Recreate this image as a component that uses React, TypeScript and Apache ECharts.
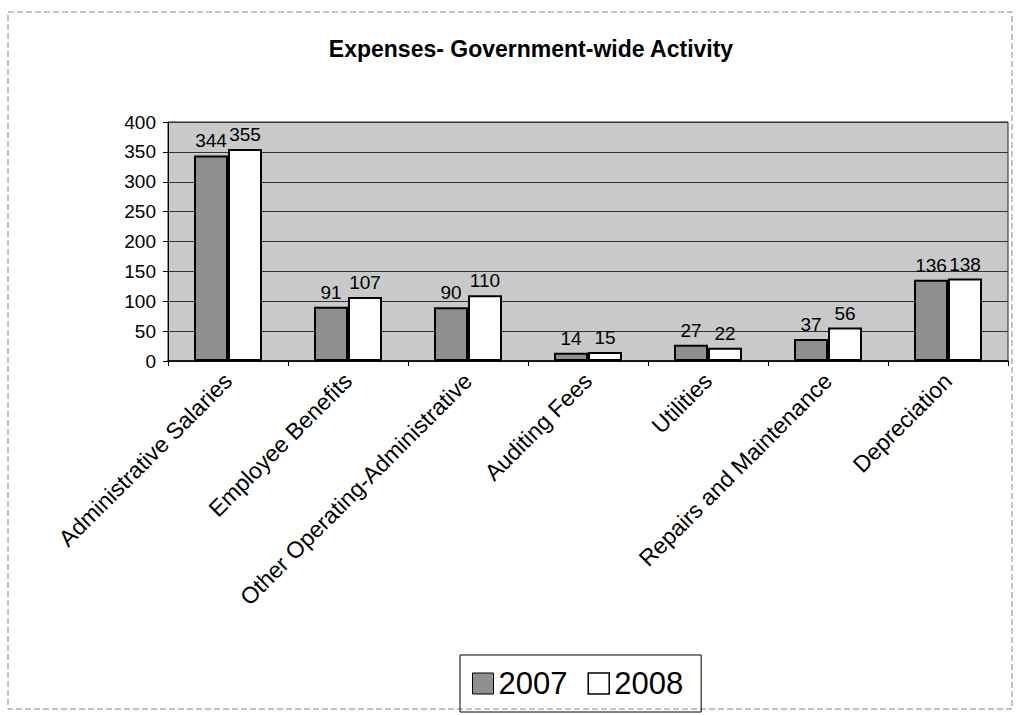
import React, { useEffect, useRef } from "react";
import * as echarts from "echarts";

const categories = [
  "Administrative Salaries",
  "Employee Benefits",
  "Other Operating-Administrative",
  "Auditing Fees",
  "Utilities",
  "Repairs and Maintenance",
  "Depreciation",
];
const values2007 = [344, 91, 90, 14, 27, 37, 136];
const values2008 = [355, 107, 110, 15, 22, 56, 138];
const yTicks = { min: 0, max: 400, interval: 50 };

const FONT = "'Liberation Sans', Arial, sans-serif";

export default function App() {
  const ref = useRef<HTMLDivElement>(null);
  useEffect(() => {
    document.body.style.margin = "0";
    if (!ref.current) return;
    const chart = echarts.init(ref.current, undefined, { renderer: "svg" });
    const labelStyle = {
      show: true,
      position: "top",
      color: "#000",
      fontSize: 19,
      fontFamily: FONT,
      distance: 5,
    };
    chart.setOption({
      animation: false,
      backgroundColor: "#fff",
      title: {
        text: "Expenses- Government-wide Activity",
        left: 526,
        textAlign: "center",
        top: 32,
        textStyle: { fontSize: 23, fontWeight: "bold", fontFamily: FONT, color: "#000" },
      },
      legend: {
        left: 460,
        top: 655,
        padding: [13, 18, 13, 12],
        borderColor: "#000",
        borderWidth: 1,
        itemWidth: 21,
        itemHeight: 21,
        itemGap: 20,
        icon: "rect",
        textStyle: { fontSize: 31, fontFamily: FONT, color: "#000" },
        data: [
          { name: "2007", itemStyle: { color: "#8f8f8f", borderColor: "#000", borderWidth: 1 } },
          { name: "2008", itemStyle: { color: "#fff", borderColor: "#000", borderWidth: 1.5 } },
        ],
      },
      graphic: [
        {
          type: "rect",
          shape: { x: 8, y: 12, width: 1004, height: 697 },
          style: { fill: "none", stroke: "#888", lineWidth: 1, lineDash: [6, 3] },
          silent: true,
          z: -1,
        },
      ],
      grid: {
        left: 168,
        right: 12,
        top: 122,
        bottom: 354,
        show: true,
        backgroundColor: "#c9c9c9",
        borderColor: "#222",
        borderWidth: 1,
      },
      xAxis: {
        type: "category",
        data: categories,
        axisLine: { lineStyle: { color: "#000", width: 1.5 } },
        axisTick: { show: true, alignWithLabel: false, lineStyle: { color: "#000" }, length: 5 },
        axisLabel: {
          rotate: 45,
          interval: 0,
          fontSize: 23,
          fontFamily: FONT,
          color: "#000",
          margin: 16,
        },
      },
      yAxis: {
        type: "value",
        min: yTicks.min,
        max: yTicks.max,
        interval: yTicks.interval,
        axisLine: { show: true, lineStyle: { color: "#000" } },
        axisTick: { show: true, lineStyle: { color: "#000" }, length: 5 },
        splitLine: { lineStyle: { color: "#333", width: 1 } },
        axisLabel: { fontSize: 19, fontFamily: FONT, color: "#000", margin: 12 },
      },
      series: [
        {
          name: "2007",
          type: "bar",
          data: values2007,
          barWidth: 34,
          barGap: "0%",
          itemStyle: { color: "#8f8f8f", borderColor: "#000", borderWidth: 2 },
          label: labelStyle,
        },
        {
          name: "2008",
          type: "bar",
          data: values2008,
          barWidth: 34,
          itemStyle: { color: "#fff", borderColor: "#000", borderWidth: 2 },
          label: labelStyle,
        },
      ],
    });
    return () => chart.dispose();
  }, []);
  return <div ref={ref} style={{ width: 1020, height: 715 }} />;
}
